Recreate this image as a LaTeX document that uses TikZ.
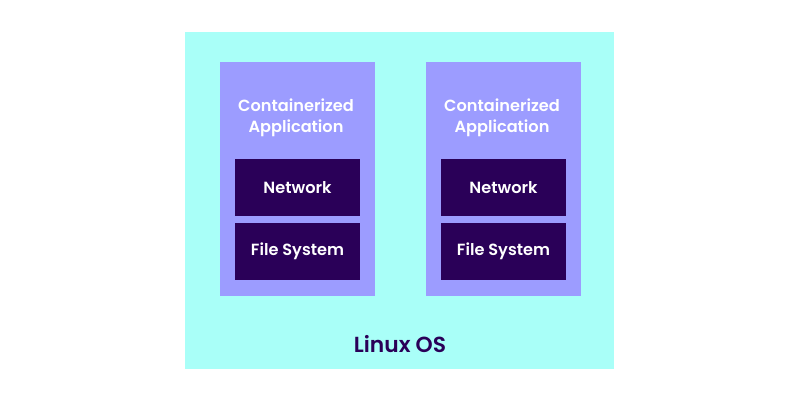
\documentclass[tikz,border=0pt]{standalone}
\usepackage{fontspec}
\setmainfont{Poppins}[BoldFont={Poppins SemiBold}]
\usetikzlibrary{positioning}
\usetikzlibrary{calc}
\definecolor{oscyan}{HTML}{A9FFF8}
\definecolor{appviolet}{HTML}{9C9CFF}
\definecolor{layerdark}{HTML}{2A0058}
\begin{document}
\begin{tikzpicture}[x=0.025cm,y=-0.025cm,
    os/.style={rectangle,fill=oscyan,minimum width=10.725cm,minimum height=8.425cm,anchor=north west,inner sep=0pt},
    app/.style={rectangle,fill=appviolet,minimum width=3.875cm,minimum height=5.85cm,anchor=north west,inner sep=0pt},
    layer/.style={rectangle,fill=layerdark,text=white,minimum width=3.125cm,minimum height=1.425cm,
		font={\fontsize{11.5pt}{14}\selectfont\bfseries}},
    apptext/.style={text=white,align=center,font={\fontsize{11.5pt}{15}\selectfont\bfseries}}
    ]
  \useasboundingbox (0,0) rectangle (800,400);

  \node (os) [os] at (185,32) {};
  \node (osname) at (400,344) [text=layerdark,font={\fontsize{15.5pt}{18}\selectfont\bfseries}] {Linux OS};

  % two containerized applications
  \foreach \x/\n in {220/a,426/b} {
    \node (app\n) [app] at (\x,62) {};
    \node (title\n) [apptext] at ($(\x,118)+(76,0)$) {Containerized\\Application};
    \node (net\n) [layer] at ($(\x,187.5)+(77.5,0)$) {Network};
    \node (fs\n) [layer] at ($(\x,251.5)+(77.5,0)$) {File System};
  }
\end{tikzpicture}
\end{document}
